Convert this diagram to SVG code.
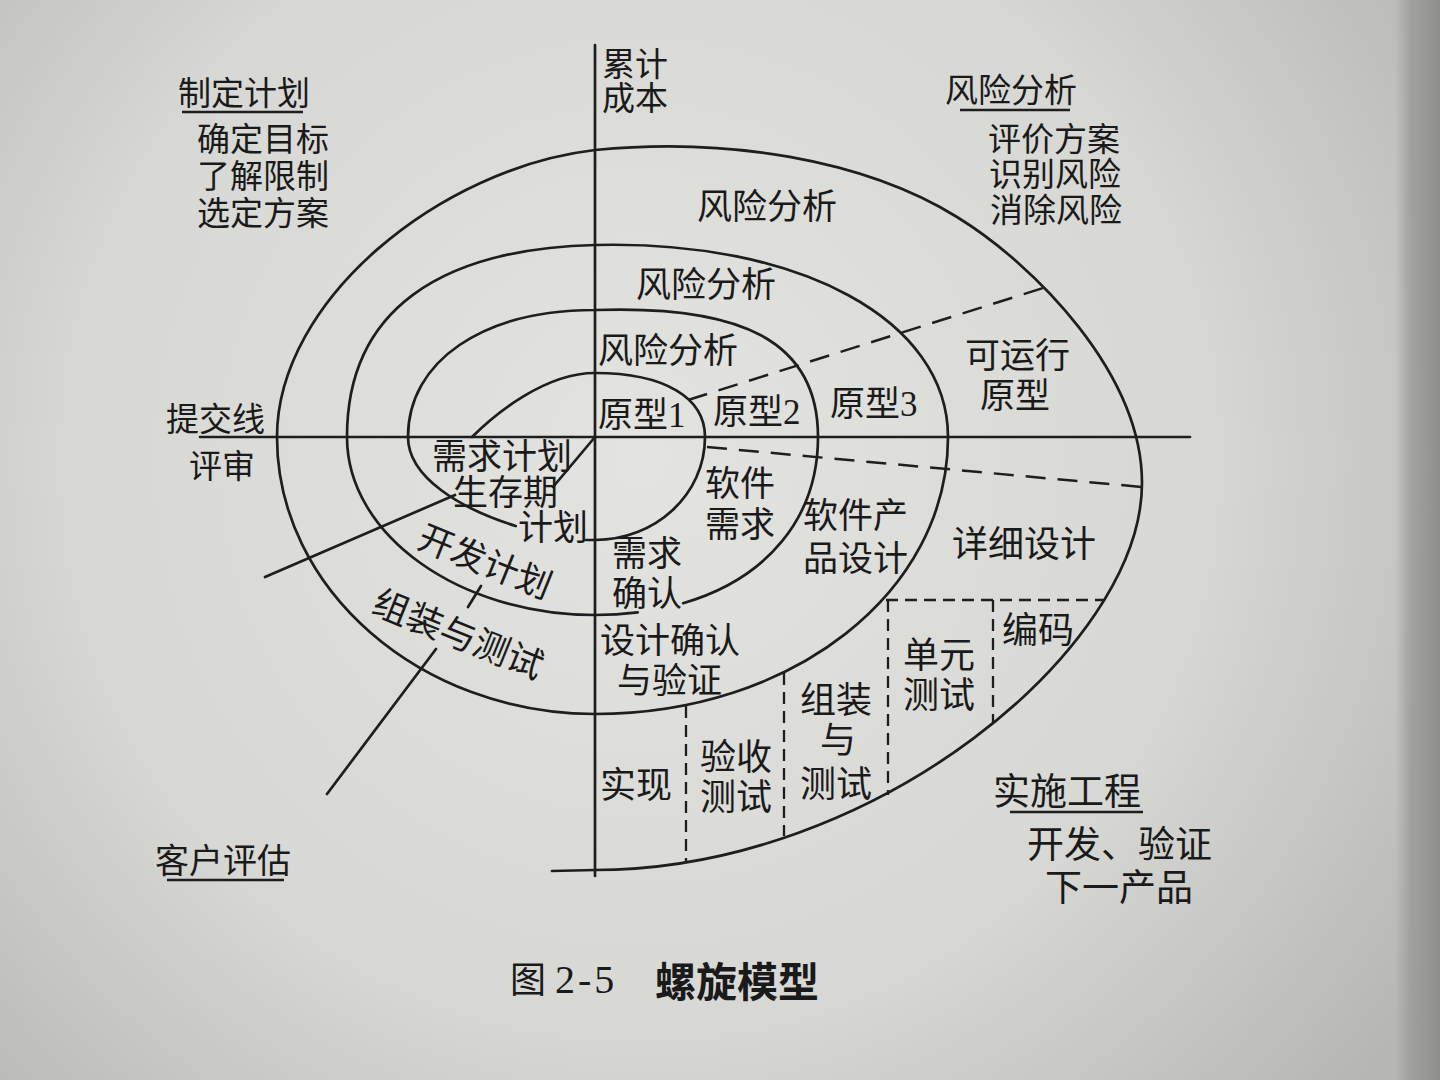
<svg xmlns="http://www.w3.org/2000/svg" width="1440" height="1080" viewBox="0 0 1440 1080">
<defs>
<radialGradient id="paper" cx="640" cy="460" r="950" gradientUnits="userSpaceOnUse">
<stop offset="0" stop-color="#e3e3e0"/>
<stop offset="0.6" stop-color="#d7d7d4"/>
<stop offset="1" stop-color="#b6b6b3"/>
</radialGradient>
<linearGradient id="edge" x1="1395" y1="0" x2="1440" y2="0" gradientUnits="userSpaceOnUse">
<stop offset="0" stop-color="#9c9c99" stop-opacity="0"/>
<stop offset="0.35" stop-color="#9c9c99" stop-opacity="0.85"/>
<stop offset="1" stop-color="#8e8e8b"/>
</linearGradient>
</defs>
<style>
.ln{fill:none;stroke:#1e1e1e;stroke-width:2.7;stroke-linecap:round}
.dash{fill:none;stroke:#1e1e1e;stroke-width:2.5;stroke-dasharray:20 12}
.vd{fill:none;stroke:#1e1e1e;stroke-width:2.3;stroke-dasharray:12 7}
.ul{stroke:#1e1e1e;stroke-width:2.5}
text{font-family:"Noto Sans CJK SC",sans-serif;fill:#1a1a1a}
.c{font-size:33px}
.d{font-size:35px}
.e{font-size:37px}
.f{font-size:36px}
.ser{font-family:"Liberation Serif","Noto Sans CJK SC",serif}
</style>
<rect x="0" y="0" width="1440" height="1080" fill="url(#paper)"/>
<rect x="1395" y="0" width="45" height="1080" fill="url(#edge)"/>

<g id="connectors">
  <line class="ln" x1="595" y1="45" x2="595" y2="876"/>
  <line class="ln" x1="200" y1="437" x2="1190" y2="437"/>
  <path class="ln" d="M472 437 C495 414 545 373 595 373 C665 373 705 398 705 437 C705 495 655 540 595 540 L586 540"/>
  <path class="ln" d="M515.7 526 C461.7 509.1 408 477.95 408 437 C408 361 483 310 595 310 C740 305 818 340 818 437 C818 518.3 766.6 578.9 683.1 603.2"/>
  <path class="ln" d="M637.7 612.4 C623.9 614.1 609.7 615 595 615 C459 615 347 535 347 437 C347 310 440 249 595 245 C800 240 948 320 948 437 C948 592 793 714 595 714 C420 714 277 589 277 437 C277 300 440 168 595 150 C725 137 863.5 159 957 217 C1033.5 264 1142 373 1142 483 C1142 648 875 870 595 870 L552 871"/>
  <path class="dash" d="M688 400 L1043 288"/>
  <path class="dash" d="M707 447 L1142 487"/>
  <path class="vd" d="M886 600 L1104 600"/>
  <path class="vd" d="M686 706 L686 862"/>
  <path class="vd" d="M784 673 L784 836"/>
  <path class="vd" d="M888 600 L888 795"/>
  <path class="vd" d="M993 600 L993 723"/>
  <line class="ln" x1="595" y1="437" x2="553" y2="487"/>
  <line class="ln" x1="265" y1="577" x2="455" y2="495"/>
  <line class="ln" x1="481" y1="586" x2="468" y2="607"/>
  <line class="ln" x1="327" y1="794" x2="436" y2="649"/>
  <line class="ul" x1="182" y1="112" x2="303" y2="112"/>
  <line class="ul" x1="960" y1="110" x2="1070" y2="110"/>
  <line class="ul" x1="167" y1="880" x2="284" y2="880"/>
  <line class="ul" x1="1010" y1="812" x2="1143" y2="812"/>
</g>

<g id="plan"><text class="c" x="178" y="105">制定计划</text><text class="c" x="197" y="151">确定目标</text><text class="c" x="197" y="188">了解限制</text><text class="c" x="197" y="225">选定方案</text></g>
<g id="risk"><text class="c" x="945" y="102">风险分析</text><text class="c" x="988" y="151">评价方案</text><text class="c" x="989" y="186">识别风险</text><text class="c" x="990" y="222">消除风险</text></g>
<g id="cost"><text class="c" x="602" y="76">累计</text><text class="c" x="602" y="110">成本</text></g>
<g id="commit"><text class="c" x="166" y="431">提交线</text><text class="c" x="189" y="478">评审</text></g>
<g id="customer"><text style="font-size:34px" x="155" y="873">客户评估</text></g>
<g id="engineering"><text class="e" x="993" y="805">实施工程</text><text class="e" x="1027" y="858">开发、验证</text><text class="e" x="1045" y="901">下一产品</text></g>

<g id="ra4"><text class="d" x="697" y="219">风险分析</text></g>
<g id="ra3"><text class="d" x="636" y="297">风险分析</text></g>
<g id="ra2"><text class="d" x="598" y="363">风险分析</text></g>
<g id="proto1"><text class="d ser" x="598" y="427">原型1</text></g>
<g id="proto2"><text class="d ser" x="713" y="424">原型2</text></g>
<g id="proto3"><text class="d ser" x="830" y="416">原型3</text></g>
<g id="opproto"><text class="d" x="965" y="368">可运行</text><text class="d" x="980" y="408">原型</text></g>
<g id="reqplan"><text class="d" x="432" y="469">需求计划</text></g>
<g id="lifeplan"><text class="d" x="453" y="505">生存期</text><text class="d" x="518" y="540">计划</text></g>
<g id="devplan"><text class="d" text-anchor="middle" transform="translate(485,562) rotate(22)" y="12">开发计划</text></g>
<g id="inttest"><text class="f" text-anchor="middle" transform="translate(458,635) rotate(22)" y="12">组装与测试</text></g>
<g id="swreq"><text class="d" x="705" y="496">软件</text><text class="d" x="705" y="537">需求</text></g>
<g id="reqval"><text class="d" x="612" y="566">需求</text><text class="d" x="612" y="606">确认</text></g>
<g id="designval"><text class="d" x="600" y="653">设计确认</text><text class="d" x="617" y="693">与验证</text></g>
<g id="prodesign"><text class="d" x="803" y="528">软件产</text><text class="d" x="803" y="571">品设计</text></g>
<g id="detdesign"><text class="f" x="952" y="557">详细设计</text></g>
<g id="code"><text class="f" x="1002" y="643">编码</text></g>
<g id="unittest"><text class="f" x="903" y="668">单元</text><text class="f" x="903" y="708">测试</text></g>
<g id="integ"><text class="f" x="800" y="713">组装</text><text class="f" x="820" y="753">与</text><text class="f" x="800" y="797">测试</text></g>
<g id="accept"><text class="f" x="700" y="770">验收</text><text class="f" x="700" y="810">测试</text></g>
<g id="impl"><text class="f" x="600" y="798">实现</text></g>

<g id="caption"><text class="ser" style="font-size:36px" x="510" y="993">图<tspan x="555" style="font-size:40px;letter-spacing:3px">2-5</tspan></text><text style="font-size:41px;font-weight:bold" x="655" y="997">螺旋模型</text></g>
</svg>
